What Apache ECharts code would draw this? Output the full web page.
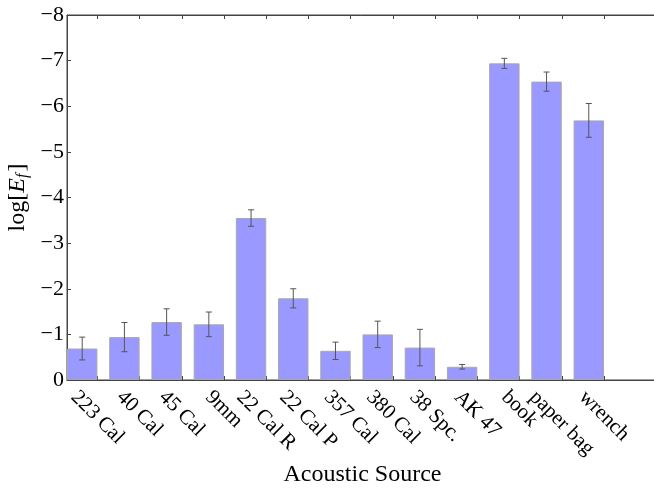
<!DOCTYPE html>
<html>
<head>
<meta charset="utf-8">
<script src="https://cdn.jsdelivr.net/npm/echarts@6/dist/echarts.min.js"></script>
<style>
  html, body { margin: 0; padding: 0; background: #fff; }
  #chart { width: 654px; height: 489px; }
</style>
</head>
<body>
<div id="chart"></div>
<script>
// acoustic sources, mean log[E_f] and error (± half range)
const sources = ['223 Cal', '40 Cal', '45 Cal', '9mm', '22 Cal R', '22 Cal P', '357 Cal',
  '380 Cal', '38 Spc.', 'AK 47', 'book', 'paper bag', 'wrench'];
const logEf = [-0.69, -0.94, -1.27, -1.22, -3.55, -1.79, -0.64, -1.00, -0.71, -0.29, -6.94, -6.54, -5.69];
const errs = [0.25, 0.32, 0.29, 0.27, 0.18, 0.21, 0.19, 0.29, 0.40, 0.05, 0.11, 0.21, 0.37];

const BAR_W = 0.72;   // bar width in x units, bars start at integer x
const X_MAX = 14;
const GRID = { left: 67, top: 15, width: 591, height: 365 };
const pxPerUnit = GRID.width / X_MAX;
const FONT = '"Liberation Serif", "Times New Roman", serif';
const LABEL_SIZE = 21;

const centers = sources.map((_, i) => i + BAR_W / 2);
const tickPos = sources.map((_, i) => i + BAR_W);

// matplotlib centres the rotated label box on the tick; echarts starts the text at the anchor,
// so shift each anchor left by half of the rotated text width
const ctx = document.createElement('canvas').getContext('2d');
ctx.font = LABEL_SIZE + 'px ' + FONT;
const labelPos = tickPos.map((t, i) => t - 0.354 * ctx.measureText(sources[i]).width / pxPerUnit);

const nearestLabel = (v) => {
  let best = 0;
  labelPos.forEach((p, i) => { if (Math.abs(p - v) < Math.abs(labelPos[best] - v)) best = i; });
  return sources[best];
};

const chart = echarts.init(document.getElementById('chart'), null, { renderer: 'canvas' });

chart.setOption({
  backgroundColor: '#fff',
  animation: false,
  grid: { left: GRID.left, top: GRID.top, width: GRID.width, height: GRID.height,
    outerBoundsMode: 'none', containLabel: false,
    show: true, borderColor: '#444', borderWidth: 1, backgroundColor: 'transparent' },
  xAxis: [
    {
      type: 'value', min: 0, max: X_MAX,
      name: 'Acoustic Source', nameLocation: 'middle', nameGap: 83, nameMoveOverlap: false,
      nameTextStyle: { fontFamily: FONT, fontSize: 24, color: '#000', verticalAlign: 'top' },
      axisLine: { show: true, lineStyle: { color: '#444', width: 1 } },
      axisTick: { show: true, inside: true, length: 4, customValues: tickPos, lineStyle: { color: '#444' } },
      axisLabel: {
        customValues: labelPos, rotate: -45, margin: 14,
        fontFamily: FONT, fontSize: LABEL_SIZE, color: '#000',
        formatter: (v) => nearestLabel(v),
      },
      splitLine: { show: false },
    },
    {
      type: 'value', min: 0, max: X_MAX, position: 'top',
      axisLine: { show: true, lineStyle: { color: '#444', width: 1 } },
      axisTick: { show: true, inside: true, length: 4, customValues: tickPos, lineStyle: { color: '#444' } },
      axisLabel: { show: false },
      splitLine: { show: false },
    },
  ],
  yAxis: {
    type: 'value', min: -8, max: 0, interval: 1, inverse: true,
    name: '{n|log[}{i|E}{s|f}{n|]}', nameLocation: 'middle', nameGap: 36, nameRotate: 90,
    nameMoveOverlap: false,
    nameTextStyle: {
      rich: {
        n: { fontFamily: FONT, fontSize: 24, color: '#000' },
        i: { fontFamily: FONT, fontSize: 24, fontStyle: 'italic', color: '#000' },
        s: { fontFamily: FONT, fontSize: 16, fontStyle: 'italic', color: '#000', padding: [10, 2, 0, 0] },
      },
    },
    axisLine: { show: true, lineStyle: { color: '#444', width: 1 } },
    axisTick: { show: true, inside: true, length: 4, lineStyle: { color: '#444' } },
    axisLabel: {
      margin: 3, fontFamily: FONT, fontSize: 22, color: '#000',
      formatter: (v) => (v === 0 ? '0' : '\u2212' + Math.abs(v)),
    },
    splitLine: { show: false },
  },
  series: [
    {
      type: 'bar',
      barWidth: BAR_W * pxPerUnit,
      data: logEf.map((v, i) => [centers[i], v]),
      itemStyle: { color: 'rgb(153,153,255)', borderColor: '#a8a8a8', borderWidth: 1 },
    },
    {
      type: 'custom',
      encode: { x: 0, y: [1, 2] },
      data: logEf.map((v, i) => [centers[i], v - errs[i], v + errs[i]]),
      renderItem: (params, api) => {
        const x = api.value(0);
        const p1 = api.coord([x, api.value(1)]);
        const p2 = api.coord([x, api.value(2)]);
        const cap = 3;
        const style = { stroke: '#555', lineWidth: 1 };
        return {
          type: 'group',
          children: [
            { type: 'line', shape: { x1: p1[0], y1: p1[1], x2: p2[0], y2: p2[1] }, style },
            { type: 'line', shape: { x1: p1[0] - cap, y1: p1[1], x2: p1[0] + cap, y2: p1[1] }, style },
            { type: 'line', shape: { x1: p2[0] - cap, y1: p2[1], x2: p2[0] + cap, y2: p2[1] }, style },
          ],
        };
      },
      z: 3,
    },
  ],
});
</script>
</body>
</html>
